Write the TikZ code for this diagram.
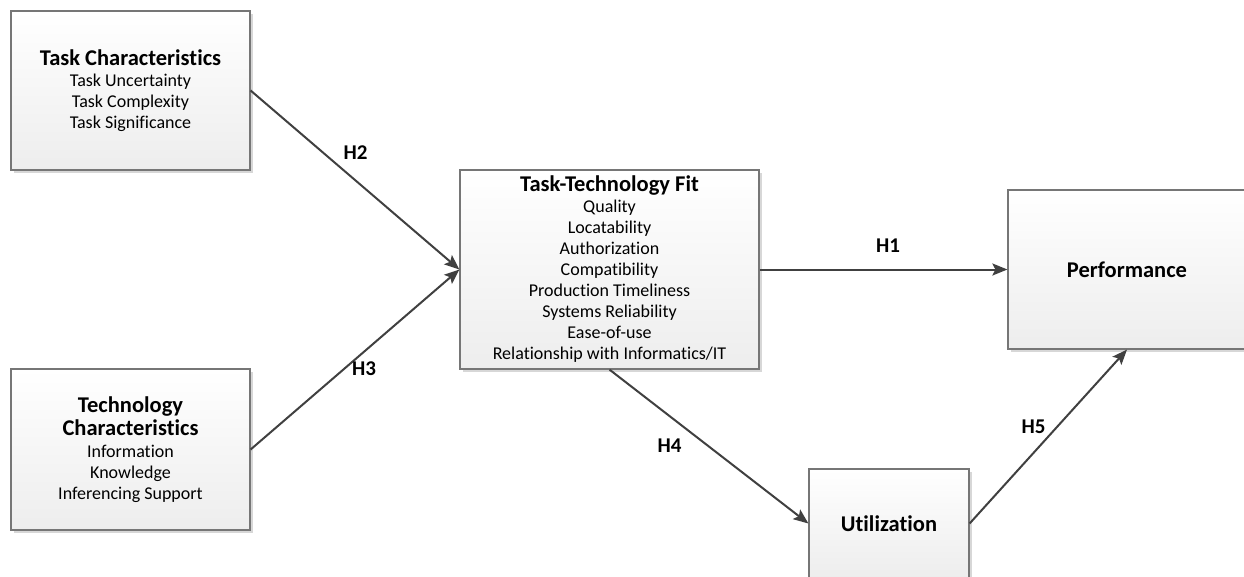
\documentclass[tikz,border=0pt]{standalone}
\usepackage{fontspec}
\setmainfont{Carlito}[RawFeature={-liga;-clig;-dlig;-calt}]
\usetikzlibrary{arrows.meta,shadows}
\definecolor{boxborder}{RGB}{118,118,118}
\definecolor{arrowcol}{RGB}{64,64,64}
\definecolor{shadowcol}{RGB}{215,215,215}
\newcommand{\ttl}{\fontsize{22.5}{25}\selectfont\bfseries}
\newcommand{\itm}{\fontsize{18}{21}\selectfont}
\tikzset{
  boxnode/.style={draw=boxborder, line width=1.2pt, top color=white, bottom color=black!7,
    align=center, inner sep=0pt, font=\itm,
    drop shadow={shadow xshift=3pt, shadow yshift=-3pt, fill=shadowcol, opacity=1}},
  conn/.style={draw=arrowcol, line width=2pt, -{Stealth[length=15pt,width=12pt,inset=3pt]}},
  hlabel/.style={font=\fontsize{21}{24}\selectfont\bfseries, inner sep=0pt}
}
\begin{document}
\begin{tikzpicture}[x=1pt,y=-1pt]
\useasboundingbox (0,0) rectangle (1244,576);
\node[boxnode, minimum width=239pt, minimum height=159pt] (tc) at (130.5,90.5)
  {{\ttl Task Characteristics}\\Task Uncertainty\\Task Complexity\\Task Significance};
\node[boxnode, minimum width=239pt, minimum height=161pt] (tech) at (130.5,449.5)
  {{\ttl Technology}\\[2pt]{\ttl Characteristics}\\[1pt]Information\\Knowledge\\Inferencing Support};
\node[boxnode, minimum width=299pt, minimum height=199pt] (ttf) at (609.5,269.5)
  {{\ttl Task-Technology Fit}\\Quality\\Locatability\\Authorization\\Compatibility\\Production Timeliness\\Systems Reliability\\Ease-of-use\\Relationship with Informatics/IT};
\node[boxnode, minimum width=238pt, minimum height=159pt] (perf) at (1127,269.5)
  {\fontsize{22.5}{26}\selectfont\bfseries Performance};
\node[boxnode, minimum width=160pt, minimum height=109pt] (util) at (889,523.5)
  {\fontsize{22.5}{26}\selectfont\bfseries Utilization};
\draw[conn] (tc.east) -- (ttf.west);
\draw[conn] (tech.east) -- (ttf.west);
\draw[conn] (ttf.east) -- (perf.west);
\draw[conn] (ttf.south) -- (util.west);
\draw[conn] (util.east) -- (perf.south);
\node[hlabel] (h2) at (355.5,152.5) {H2};
\node[hlabel] (h3) at (364,369) {H3};
\node[hlabel] (h1) at (888,246) {H1};
\node[hlabel] (h4) at (669.5,446) {H4};
\node[hlabel] (h5) at (1033.5,427) {H5};
\end{tikzpicture}
\end{document}
